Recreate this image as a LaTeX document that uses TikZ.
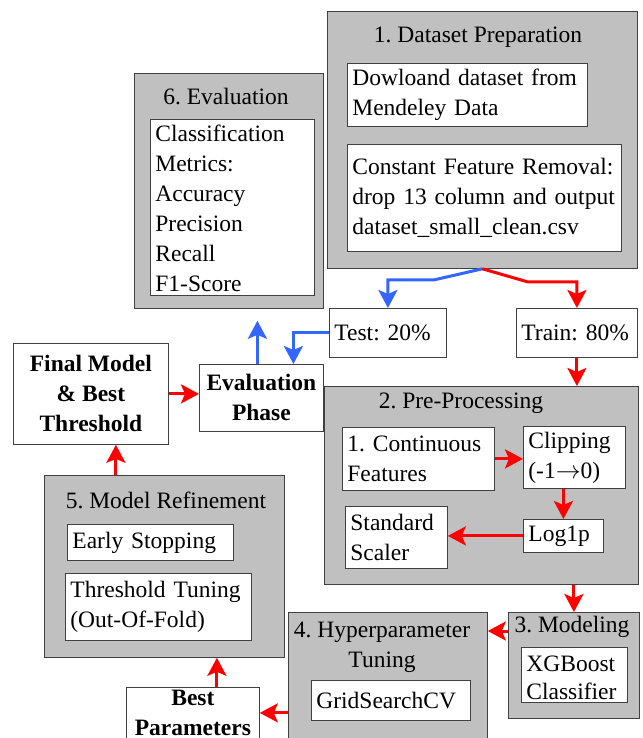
\documentclass[tikz,border=0pt]{standalone}
\usepackage{fontspec}
\setmainfont{Liberation Serif}
\usepackage{xcolor}
\usetikzlibrary{arrows.meta, positioning}

\definecolor{boxgray}{HTML}{C0C0C0}
\definecolor{boxline}{HTML}{404040}
\definecolor{splitblue}{HTML}{3366FF}
\definecolor{flowred}{HTML}{FF0000}
\frenchspacing

\begin{document}
\begin{tikzpicture}[x=1pt, y=-1pt,
        font=\fontsize{23.5}{30}\selectfont,
        container/.style={rectangle, draw=boxline, fill=boxgray, line width=0.8pt, inner sep=0pt, anchor=north west},
        item/.style={rectangle, draw=boxline, fill=white, line width=0.8pt, align=left, inner xsep=5pt, inner ysep=1pt, anchor=north west},
        keybox/.style={rectangle, draw=boxline, fill=white, line width=0.8pt, align=center, inner sep=1pt, anchor=north west, font=\fontsize{23.5}{30}\selectfont\bfseries},
        title/.style={inner sep=0pt, align=center},
        redline/.style={draw=flowred, line width=3pt, -{Stealth[length=18pt, width=19pt, inset=4pt]}},
        blueline/.style={draw=splitblue, line width=3pt, -{Stealth[length=18pt, width=19pt, inset=4pt]}}]

        \useasboundingbox (0,0) rectangle (642,738);
        \clip (0,0) rectangle (642,738);

        % 1. Dataset preparation
        \node [container, minimum width=310pt, minimum height=257pt] (prep) at (327,11) {};
        \node [title] (preptitle) at (478,37) {1. Dataset Preparation};
        \node [item, text width=230pt, minimum height=63pt] (download) at (347,63) {Dowloand dataset from\\Mendeley Data};
        \node [item, text width=264pt, minimum height=107pt] (removal) at (347,144) {Constant Feature Removal:\\drop 13 column and output\\dataset\_small\_clean.csv};

        % 6. Evaluation
        \node [container, minimum width=189pt, minimum height=235pt] (evaluation) at (134,73) {};
        \node [title] (evaltitle) at (226,97) {6. Evaluation};
        \node [item, text width=154pt, minimum height=176pt, inner ysep=4pt] (metrics) at (150,119) {\rule{0pt}{18pt}Classification\\Metrics:\\Accuracy\\Precision\\Recall\\F1-Score};

        % split
        \node [item, text width=107pt, minimum height=49pt] (test) at (329,308) {Test: 20\%};
        \node [item, text width=111pt, minimum height=49pt] (train) at (516,308) {Train: 80\%};

        % final model and evaluation phase
        \node [keybox, minimum width=155pt, minimum height=101pt] (final) at (13,343) {Final Model\\\& Best\\Threshold};
        \node [keybox, minimum width=124pt, minimum height=67pt] (evalphase) at (199,364) {Evaluation\\Phase};

        % 2. Pre-processing
        \node [container, minimum width=314pt, minimum height=198pt] (preproc) at (324,386) {};
        \node [title] (preproctitle) at (461,403) {2. Pre-Processing};
        \node [item, text width=142pt, minimum height=63pt] (continuous) at (342,427) {1. Continuous\\Features};
        \node [item, text width=92pt, minimum height=62pt] (clipping) at (523,426) {Clipping\\(-1\(\rightarrow\)0)};
        \node [item, text width=70pt, minimum height=33pt] (logp) at (523,519) {Log1p};
        \node [item, text width=92pt, minimum height=62pt] (scaler) at (345,506) {Standard\\Scaler};

        % 3. Modeling
        \node [container, minimum width=131pt, minimum height=106pt] (modeling) at (508,612) {};
        \node [title] (modeltitle) at (572,627) {3. Modeling};
        \node [item, text width=96pt, minimum height=55pt, font=\fontsize{23.5}{28}\selectfont] (xgboost) at (521,647) {\rule{0pt}{21pt}XGBoost\\Classifier};

        % 4. Hyperparameter tuning
        \node [container, minimum width=199pt, minimum height=128pt] (tuning) at (288,612) {};
        \node [title] (tuningtitle) at (382,647) {4. Hyperparameter\\Tuning};
        \node [item, text width=149pt, minimum height=40pt] (gridsearch) at (311,680) {GridSearchCV};

        % 5. Model refinement
        \node [container, minimum width=240pt, minimum height=182pt] (refine) at (44,475) {};
        \node [title] (refinetitle) at (166,500) {5. Model Refinement};
        \node [item, text width=156pt, minimum height=36pt] (earlystop) at (67,524) {Early Stopping};
        \node [item, text width=176pt, minimum height=67pt] (threshold) at (65,573) {Threshold Tuning\\(Out-Of-Fold)};
        \node [keybox, minimum width=133pt, minimum height=51pt] (bestparams) at (126,687) {Best\\Parameters};

        % Edges
        \draw [blueline] (prep.south) -- ++(-48,11) -| (test.north);
        \draw [redline] (prep.south) -- ++(45,13) -| (train.north);
        \draw [redline] (train.south) -- (train.south |- preproc.north);
        \draw [blueline] (test.west) -| ([xshift=32pt]evalphase.north);
        \draw [blueline, shorten >=12pt] ([xshift=-4pt]evalphase.north) -- ([xshift=-4pt]evalphase.north |- evaluation.south);
        \draw [redline] (final.east) -- (final.east -| evalphase.west);
        \draw [redline] (continuous.east) -- (continuous.east -| clipping.west);
        \draw [redline] (logp.north |- clipping.south) -- (logp.north);
        \draw [redline] (logp.west) -- (logp.west -| scaler.east);
        \draw [redline] (modeling.north |- preproc.south) -- (modeling.north);
        \draw [redline] ([yshift=-19pt]modeling.north west) -- ([yshift=-19pt]tuning.north east);
        \draw [redline] (tuning.west |- bestparams.east) -- (bestparams.east);
        \draw [redline] ([xshift=24pt]bestparams.north) -- ([xshift=24pt]bestparams.north |- refine.south);
        \draw [redline] ([xshift=25pt]final.south |- refine.north) -- ([xshift=25pt]final.south);

    \end{tikzpicture}
\end{document}
